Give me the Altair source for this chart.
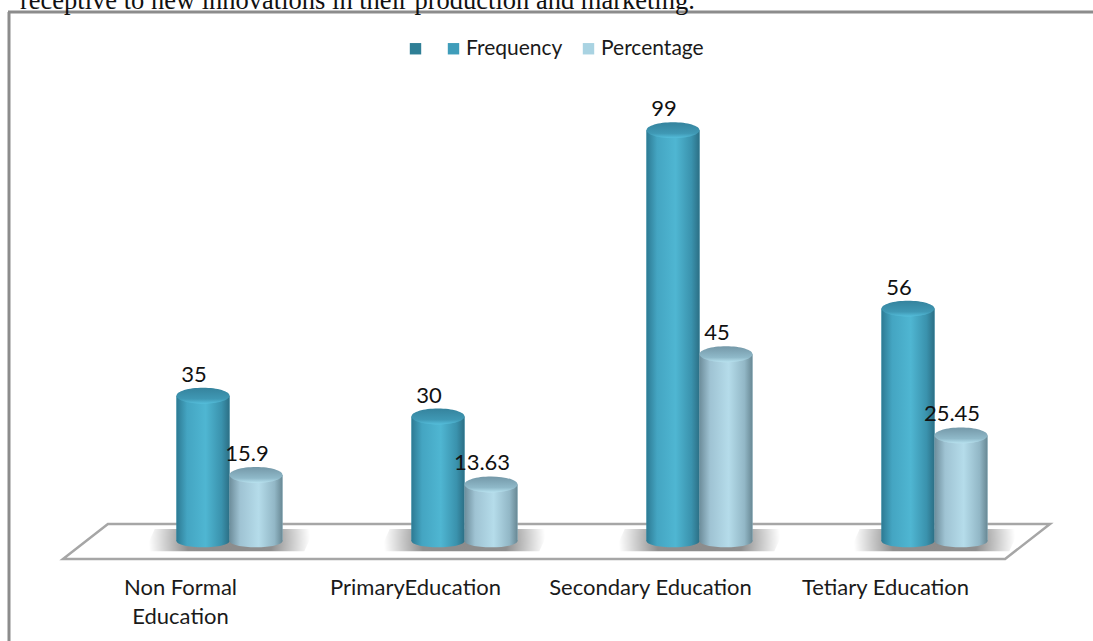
import altair as alt
import pandas as pd

levels = ["Non Formal Education", "PrimaryEducation", "Secondary Education", "Tetiary Education"]
frequency = [35, 30, 99, 56]
percentage = [15.9, 13.63, 45, 25.45]
legend_entries = [" ", "Frequency", "Percentage"]
legend_colors = ["#2f7f96", "#3f9dba", "#a9d3e2"]
caption = "receptive to new innovations in their production and marketing."

rows = []
for i, level in enumerate(levels):
    rows.append({"level": level, "series": "Frequency", "value": frequency[i], "label": str(frequency[i])})
    rows.append({"level": level, "series": "Percentage", "value": percentage[i], "label": str(percentage[i])})
table = pd.DataFrame(rows)
font = "Lato"
ELLIPSE = "M -1 0 A 1 0.3 0 1 1 1 0 A 1 0.3 0 1 1 -1 0 Z"
BASE_ELLIPSE = "M -1 0 A 1 0.24 0 1 1 1 0 A 1 0.24 0 1 1 -1 0 Z"
FLOOR = "M -0.909 -0.0344 L 1 -0.0344 L 0.909 0.0365 L -1 0.0365 Z"
SHADOW = "M -0.88 -0.14 L 1 -0.14 L 0.88 0.12 L -1 0.12 Z"


def side(stops):
    return alt.LinearGradient(
        gradient="linear", x1=0, x2=1, y1=0, y2=0,
        stops=[alt.GradientStop(offset=o, color=c) for o, c in stops],
    )


def cap(top, mid, rim):
    return alt.LinearGradient(
        gradient="linear", x1=0, x2=0, y1=0, y2=1,
        stops=[alt.GradientStop(offset=0, color=top),
               alt.GradientStop(offset=0.7, color=mid),
               alt.GradientStop(offset=1, color=rim)],
    )


blue_side = side([(0, "#2d7a93"), (0.2, "#44a5c2"), (0.55, "#4fb6d2"), (0.85, "#3a92ad"), (1, "#2c6f85")])
pale_side = side([(0, "#6d8d9b"), (0.2, "#9fc3d3"), (0.55, "#b5dcea"), (0.85, "#92b7c6"), (1, "#688894")])
blue_cap = cap("#35839d", "#3f98b4", "#55bedb")
pale_cap = cap("#7498a8", "#8fb9c9", "#b8e2ef")
shadow_fill = alt.RadialGradient(
    gradient="radial", x1=0.5, y1=0.5, r1=0, x2=0.5, y2=0.5, r2=0.5,
    stops=[alt.GradientStop(offset=0, color="#8c8c8c"),
           alt.GradientStop(offset=0.5, color="#8f8f8f"),
           alt.GradientStop(offset=0.95, color="#ffffff")],
)

x_scale = alt.Scale(domain=levels, range=[104, 1044], paddingInner=0, paddingOuter=0)
x_axis = alt.Axis(
    title=None, domain=False, ticks=False, labelAngle=0, orient="bottom", offset=-64,
    labelFont=font, labelFontSize=22, labelColor="#1a1a1a", labelPadding=0, labelOffset=-49,
    labelLineHeight=29, labelLimit=300,
    labelExpr="datum.value == 'Non Formal Education' ? ['Non Formal', 'Education'] : datum.label",
)
x = alt.X("level:N", sort=levels, scale=x_scale, axis=x_axis)
x_offset = alt.XOffset(
    "series:N",
    scale=alt.Scale(domain=["Frequency", "Percentage"], range=[64.5, 170.5], paddingInner=0, paddingOuter=0),
)
y_scale = alt.Scale(domain=[0, 100], range=[529, 114])
y = alt.Y("value:Q", stack=None, scale=y_scale, axis=None)
base_y = alt.Y("base:Q", stack=None, scale=y_scale, axis=None)

base = alt.Chart(table)
frame_data = pd.DataFrame({"edge": [0]})

# Chart frame: only the top and left edges fall inside the page
frame_top = alt.Chart(frame_data).mark_rule(color="#8c8c8c", strokeWidth=3).encode(
    x=alt.value(0), x2=alt.value(1085), y=alt.value(0)
)
frame_left = alt.Chart(frame_data).mark_rule(color="#8c8c8c", strokeWidth=3).encode(
    x=alt.value(1), y=alt.value(0), y2=alt.value(629)
)

# Ground plane and the soft shadows beneath each group
floor = alt.Chart(pd.DataFrame({"base": [0]})).mark_point(
    shape=FLOOR, size=987 ** 2, filled=False, stroke="#a6a6a6", strokeWidth=2.5, opacity=1
).encode(x=alt.value(548.5), y=base_y)

shadow = (
    alt.Chart(pd.DataFrame({"level": levels, "base": [0, 0, 0, 0]}))
    .mark_point(shape=SHADOW, size=170 ** 2, filled=True, fill=shadow_fill, opacity=1)
    .encode(x=x, y=base_y)
)

# Flat bars carry the legend; the shaded cylinders sit on top of them
flat = base.mark_bar().encode(
    x=x, xOffset=x_offset, y=y,
    color=alt.Color(
        "series:N",
        scale=alt.Scale(domain=legend_entries, range=legend_colors),
        legend=alt.Legend(
            title=None, orient="none", legendX=397, legendY=26, direction="horizontal", columns=3,
            symbolType="square", symbolSize=130, labelFont=font, labelFontSize=21,
            labelColor="#1a1a1a", columnPadding=15, labelOffset=2, symbolStrokeWidth=0,
        ),
    ),
)


def cylinder(series, side_fill, cap_fill):
    part = base.transform_filter(alt.datum.series == series)
    body = part.mark_bar(fill=side_fill).encode(x=x, xOffset=x_offset, y=y)
    bottom = part.transform_calculate(base="0").mark_point(
        shape=BASE_ELLIPSE, size=53 ** 2, filled=True, fill=side_fill, opacity=1
    ).encode(x=x, xOffset=x_offset, y=base_y)
    top = part.mark_point(
        shape=ELLIPSE, size=53 ** 2, filled=True, fill=cap_fill, opacity=1
    ).encode(x=x, xOffset=x_offset, y=y)
    return bottom + body + top


labels = base.mark_text(
    font=font, fontSize=22, color="#111111", dx=-9, dy=-21
).encode(x=x, xOffset=x_offset, y=y, text="label:N")

caption_text = alt.Chart(pd.DataFrame({"text": [caption]})).mark_text(
    font="Liberation Serif", fontSize=26.5, align="left", color="#111111", baseline="alphabetic"
).encode(x=alt.value(12), y=alt.value(-3), text="text:N")

chart = (
    alt.layer(
        frame_top, frame_left, floor, shadow, flat,
        cylinder("Frequency", blue_side, blue_cap),
        cylinder("Percentage", pale_side, pale_cap),
        labels, caption_text,
    )
    .properties(
        width=1085, height=629,
        autosize=alt.AutoSizeParams(type="none"),
        padding={"left": 8, "top": 12, "right": 0, "bottom": 0},
    )
    .configure_view(stroke=None)
)

chart.save("out.html", embed_options={"renderer": "svg", "actions": False})
